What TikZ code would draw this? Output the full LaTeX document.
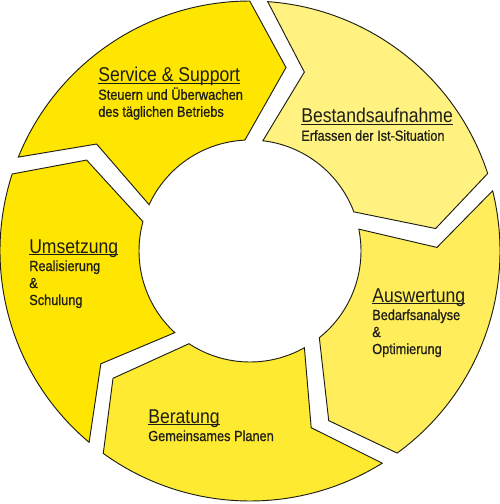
\documentclass[tikz,border=0pt]{standalone}
\usepackage{fontspec}
\setmainfont[FakeStretch=0.88]{Liberation Sans}
\newfontfamily\phasefont[FakeStretch=0.87,FakeBold=0.7]{Liberation Sans}
\usepackage{tikz}
\newcommand{\headline}[1]{\setbox0=\hbox{\normalfont\fontsize{15}{15}\selectfont #1}\rlap{\rule[-1.6pt]{\wd0}{0.7pt}}\box0}

\begin{document}
\begin{tikzpicture}[x=0.75pt,y=0.75pt,yscale=-1,xscale=1,
  ringpart/.style={draw={rgb, 255:red, 30; green, 30; blue, 20}, line width=0.7pt, line join=miter},
  phaselabel/.style={anchor=north west, inner sep=0pt, align=left, text={rgb, 255:red, 30; green, 30; blue, 25}, font=\phasefont\fontsize{11}{12.75}\selectfont}]
\useasboundingbox (0,0) rectangle (500,504);

\begin{scope}[shift={(250,251)},yscale=-1]
%Shape: Arrow Segment [Service & Support]
\draw [ringpart, fill={rgb, 255:red, 255; green, 230; blue, 0}] (157.94:250) arc [start angle=157.94, end angle=90.06, radius=250] -- (78.9:187) -- (92.65:111) arc [start angle=92.65, end angle=155.35, radius=111] -- (145.1:187) -- cycle;
%Shape: Arrow Segment [Bestandsaufnahme]
\draw [ringpart, fill={rgb, 255:red, 255; green, 242; blue, 128}] (85.94:250) arc [start angle=85.94, end angle=18.06, radius=250] -- (6.9:187) -- (20.65:111) arc [start angle=20.65, end angle=83.35, radius=111] -- (73.1:187) -- cycle;
%Shape: Arrow Segment [Auswertung]
\draw [ringpart, fill={rgb, 255:red, 255; green, 237; blue, 92}] (13.94:250) arc [start angle=13.94, end angle=-53.94, radius=250] -- (-65.1:187) -- (-51.35:111) arc [start angle=-51.35, end angle=11.35, radius=111] -- (1.1:187) -- cycle;
%Shape: Arrow Segment [Beratung]
\draw [ringpart, fill={rgb, 255:red, 255; green, 234; blue, 50}] (-58.06:250) arc [start angle=-58.06, end angle=-125.94, radius=250] -- (-137.1:187) -- (-123.35:111) arc [start angle=-123.35, end angle=-60.65, radius=111] -- (-70.9:187) -- cycle;
%Shape: Arrow Segment [Umsetzung]
\draw [ringpart, fill={rgb, 255:red, 255; green, 230; blue, 0}] (-130.06:250) arc [start angle=-130.06, end angle=-197.94, radius=250] -- (-209.1:187) -- (-195.35:111) arc [start angle=-195.35, end angle=-132.65, radius=111] -- (-142.9:187) -- cycle;
\end{scope}

% Text Node
\node (service) [phaselabel] at (98,67) {\headline{Service \& Support}\\[0.75pt]Steuern und Überwachen\\des täglichen Betriebs};
% Text Node
\node (bestand) [phaselabel] at (301,108) {\headline{Bestandsaufnahme}\\[0.75pt]Erfassen der Ist-Situation};
% Text Node
\node (auswertung) [phaselabel] at (372,288) {\headline{Auswertung}\\[0.75pt]Bedarfsanalyse\\\&\\Optimierung};
% Text Node
\node (beratung) [phaselabel] at (148,409) {\headline{Beratung}\\[0.75pt]Gemeinsames Planen};
% Text Node
\node (umsetzung) [phaselabel] at (29,239) {\headline{Umsetzung}\\[0.75pt]Realisierung\\\&\\Schulung};

\end{tikzpicture}
\end{document}
